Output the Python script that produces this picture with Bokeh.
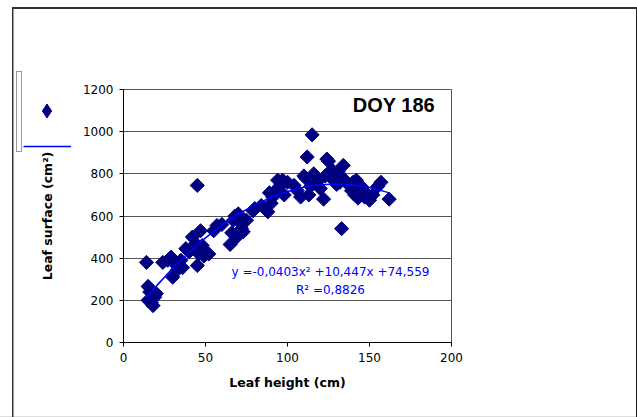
from bokeh.plotting import figure
from bokeh.layouts import column
from bokeh.models import (Range1d, Legend, LegendItem, ColumnDataSource, FixedTicker, Label)
from bokeh.embed import file_html
from bokeh.resources import INLINE

# ---- data ----
leaf_height = [14, 15, 15, 16, 17, 18, 19, 20, 24, 27, 29, 30, 31, 33, 35, 36, 38, 40, 42, 44,
               45, 45, 46, 47, 48, 49, 50, 52, 55, 57, 60, 65, 66, 67, 68, 69, 70, 71, 72, 73,
               75, 79, 80, 84, 88, 89, 90, 91, 92, 94, 95, 97, 98, 100, 104, 106, 108, 110, 111,
               112, 113, 114, 115, 116, 118, 120, 122, 123, 124, 125, 126, 127, 128, 129, 130,
               131, 132, 133, 134, 135, 137, 139, 140, 141, 142, 143, 145, 147, 149, 150, 152,
               155, 157, 162]
leaf_surface = [380, 266, 200, 240, 190, 175, 215, 232, 380, 390, 405, 310, 375, 345, 390, 355,
                445, 430, 500, 470, 745, 365, 420, 530, 460, 410, 430, 420, 530, 555, 560, 465,
                520, 580, 600, 500, 610, 570, 540, 525, 580, 625, 635, 650, 620, 710, 660, 690,
                715, 770, 740, 770, 700, 760, 745, 720, 690, 790, 780, 880, 700, 740, 985, 800,
                760, 730, 680, 790, 870, 860, 800, 820, 770, 790, 750, 810, 760, 540, 840, 770,
                750, 720, 760, 700, 770, 685, 740, 690, 700, 675, 700, 740, 760, 680]

# polynomial trendline values (y = -0,0403x^2 + 10,447x + 74,559) read at these heights
trend_x = [14, 20, 30, 40, 50, 60, 70, 80, 90, 100, 110, 120, 130, 140, 150, 160, 162]
trend_y = [212.9, 267.4, 351.7, 428.0, 496.2, 556.3, 608.4, 652.4, 688.4, 716.3, 736.1,
           747.9, 751.6, 747.3, 734.9, 714.4, 709.4]

x_ticks = [0, 50, 100, 150, 200]
y_ticks = [0, 200, 400, 600, 800, 1000, 1200]

title_text = "DOY 186"
equation_text = "y =-0,0403x\u00b2 +10,447x +74,559"
r2_text = "R\u00b2 =0,8826"
x_label = "Leaf height (cm)"
y_label = "Leaf surface (cm\u00b2)"

NAVY = "#000080"
BLUE = "#0000FF"

p = figure(width=637, height=417, output_backend="svg", toolbar_location=None,
           x_range=Range1d(0, 200), y_range=Range1d(0, 1200),
           min_border_left=123, min_border_right=186, min_border_top=89, min_border_bottom=75)
p.background_fill_color = "white"
p.border_fill_alpha = 0
# chart-area frame lines drawn behind the (transparent) canvas border area
p.styles = {
    "background": (
        "linear-gradient(#333,#333) 13px 7px / 624px 2px no-repeat, "
        "linear-gradient(#333,#333) 12px 7px / 1.5px 420px no-repeat, "
        "linear-gradient(#222,#222) 635.5px 7px / 1.2px 420px no-repeat, "
        "linear-gradient(#ddd,#ddd) 0px 415.5px / 637px 1.5px no-repeat, "
        "white"
    )
}
p.outline_line_color = "#555555"
p.outline_line_width = 1

# axes
for ax in (p.xaxis[0], p.yaxis[0]):
    ax.axis_line_color = "black"
    ax.axis_line_width = 1
    ax.major_tick_line_color = "black"
    ax.major_tick_out = 4
    ax.major_tick_in = 0
    ax.minor_tick_line_color = None
    ax.major_label_text_font = "DejaVu Sans"
    ax.major_label_text_font_size = "12px"
    ax.major_label_text_color = "black"
    ax.axis_label_text_font = "DejaVu Sans"
    ax.axis_label_text_font_size = "12.5px"
    ax.axis_label_text_font_style = "bold"
    ax.axis_label_text_color = "black"
    ax.major_label_standoff = 6

p.xaxis[0].ticker = FixedTicker(ticks=x_ticks)
p.yaxis[0].ticker = FixedTicker(ticks=y_ticks)
p.xaxis[0].axis_label = x_label
p.yaxis[0].axis_label = y_label
p.xaxis[0].axis_label_standoff = 10
p.yaxis[0].axis_label_standoff = 25

p.xgrid.grid_line_color = None
p.ygrid.grid_line_color = "#555555"
p.ygrid.grid_line_width = 1

# data
src = ColumnDataSource(dict(x=leaf_height, y=leaf_surface))
pts = p.scatter("x", "y", source=src, marker="square", angle=0.785398, size=10,
                fill_color=NAVY, line_color=NAVY)
trend = p.line(trend_x, trend_y, line_color=BLUE, line_width=1.5)

# texts
p.add_layout(Label(x=190, y=1126, text=title_text, text_font="Liberation Sans",
                   text_font_style="bold", text_font_size="20px", text_align="right",
                   text_baseline="middle", text_color="black"))
p.add_layout(Label(x=126.2, y=335, text=equation_text, text_font="DejaVu Sans",
                   text_font_size="12px", text_align="center", text_baseline="middle",
                   text_color=BLUE))
p.add_layout(Label(x=126.2, y=247, text=r2_text, text_font="DejaVu Sans",
                   text_font_size="12px", text_align="center", text_baseline="middle",
                   text_color=BLUE))

# ---- the odd little legend at the far left, in a small overlaid figure ----
# (its ranges are chosen so that the legend's own renderers fall outside its frame)
leg = figure(width=62, height=92, output_backend="svg", toolbar_location=None,
             x_range=Range1d(0, 1), y_range=Range1d(0, 1),
             x_axis_type=None, y_axis_type=None, min_border=0)
leg.min_border_left = 0
leg.min_border_right = 0
leg.min_border_top = 0
leg.min_border_bottom = 0
leg.outline_line_color = None
leg.background_fill_alpha = 0
leg.border_fill_alpha = 0
leg.styles = {"position": "absolute", "left": "14px", "top": "70px"}

lg_pts = leg.scatter("x", "y", source=src, marker="diamond", size=10,
                     fill_color=NAVY, line_color=NAVY)
lg_line = leg.line(trend_x, trend_y, line_color=BLUE, line_width=1.5)
lg_blank = leg.scatter("x", "y", source=src, marker="square", fill_alpha=0, line_alpha=0)

box_legend = Legend(items=[LegendItem(label=" ", renderers=[lg_blank])], location=(2, 10),
                    padding=0, margin=0, spacing=0, glyph_width=4, glyph_height=79,
                    label_width=0, label_standoff=0, label_text_font_size="1px",
                    border_line_color="#333333", border_line_width=1,
                    background_fill_color="white", background_fill_alpha=1)
leg.add_layout(box_legend, "center")

marker_legend = Legend(items=[LegendItem(label=" ", renderers=[lg_pts])],
                       location=(14.5, 34.5), padding=0, margin=0, spacing=0,
                       glyph_width=35, glyph_height=35, label_width=0, label_standoff=0,
                       label_text_font_size="1px",
                       border_line_alpha=0, background_fill_alpha=0)
leg.add_layout(marker_legend, "center")

line_legend = Legend(items=[LegendItem(label=" ", renderers=[lg_line])],
                     location=(9, 6), padding=0, margin=0, spacing=0,
                     glyph_width=48, glyph_height=20, label_width=0, label_standoff=0,
                     label_text_font_size="1px",
                     border_line_alpha=0, background_fill_alpha=0)
leg.add_layout(line_legend, "center")

layout = column(p, leg, spacing=0)
open("out.html", "w").write(file_html(layout, INLINE))
